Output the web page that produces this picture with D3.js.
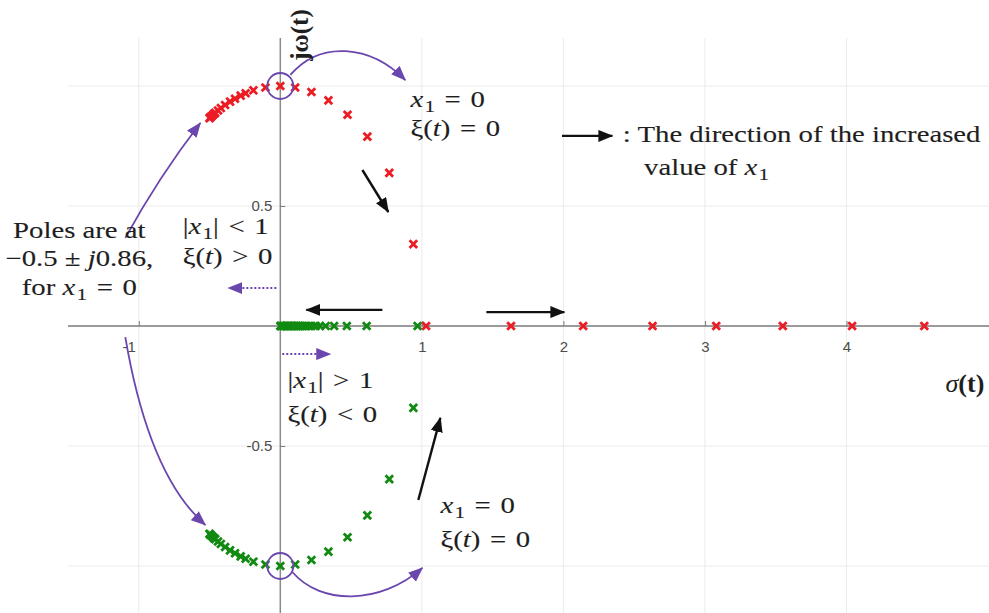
<!DOCTYPE html>
<html>
<head>
<meta charset="utf-8">
<script src="https://cdn.jsdelivr.net/npm/d3@7"></script>
<style>
  html, body { margin: 0; padding: 0; background: #fff; }
  svg { display: block; }
</style>
</head>
<body>
<svg id="chart" width="989" height="613"></svg>
<script>
// Closed-loop pole locations as x1 varies (real and imaginary parts)
const upperRe = [-0.50, -0.495, -0.49, -0.48, -0.47, -0.46, -0.44, -0.42, -0.39, -0.355, -0.32, -0.28, -0.245, -0.19, -0.105, 0,
                 0.105, 0.22, 0.34, 0.475, 0.615, 0.77, 0.94,
                 1.03, 1.63, 2.14, 2.63, 3.08, 3.55, 4.04, 4.55];
const upperIm = [0.866, 0.869, 0.872, 0.877, 0.883, 0.888, 0.898, 0.908, 0.921, 0.935, 0.947, 0.960, 0.970, 0.982, 0.994, 1.0,
                 0.994, 0.975, 0.940, 0.880, 0.789, 0.638, 0.341,
                 0, 0, 0, 0, 0, 0, 0, 0];
const lowerRe = [-0.50, -0.495, -0.49, -0.48, -0.47, -0.46, -0.44, -0.42, -0.39, -0.355, -0.32, -0.28, -0.245, -0.19, -0.105, 0,
                 0.105, 0.22, 0.34, 0.475, 0.615, 0.77, 0.94,
                 0.97, 0.61, 0.47, 0.38, 0.32, 0.28, 0.25, 0.22, 0.20, 0.185, 0.17, 0.155, 0.14, 0.13, 0.12, 0.11,
                 0.10, 0.09, 0.08, 0.07, 0.06, 0.05, 0.04, 0.03, 0.02, 0.01, 0.005, 0];
const lowerIm = [-0.866, -0.869, -0.872, -0.877, -0.883, -0.888, -0.898, -0.908, -0.921, -0.935, -0.947, -0.960, -0.970, -0.982, -0.994, -1.0,
                 -0.994, -0.975, -0.940, -0.880, -0.789, -0.638, -0.341,
                 0, 0, 0, 0, 0, 0, 0, 0, 0, 0, 0, 0, 0, 0, 0, 0,
                 0, 0, 0, 0, 0, 0, 0, 0, 0, 0, 0, 0];

const xTickValues = [-1, 1, 2, 3, 4];
const yTickValues = [-0.5, 0.5];
const xGridValues = [-1, 1, 2, 3, 4];
const yGridValues = [-1, -0.5, 0.5, 1];

const svg = d3.select("#chart");
const W = 989, H = 613;

const x = d3.scaleLinear().domain([-1.5, 5]).range([68, 988]);
const y = d3.scaleLinear().domain([-1.2, 1.2]).range([614, 38]);

const SERIF = "'Liberation Serif', 'Times New Roman', serif";
const SANS = "'Liberation Sans', Arial, sans-serif";
const PURPLE = "#6b46ad";
const INK = "#1e1e1e";
const SP = "\u2004"; // relation spacing around = < >

// Arrowhead markers
const defs = svg.append("defs");
function arrowMarker(id, color, len, wid) {
  defs.append("marker")
    .attr("id", id)
    .attr("markerUnits", "userSpaceOnUse")
    .attr("markerWidth", len).attr("markerHeight", wid)
    .attr("viewBox", `0 0 ${len} ${wid}`)
    .attr("refX", len - 1).attr("refY", wid / 2)
    .attr("orient", "auto")
    .append("path")
    .attr("d", `M0,0 L${len},${wid / 2} L0,${wid} Z`)
    .attr("fill", color);
}
arrowMarker("headBlack", "#111", 15, 12);
arrowMarker("headPurple", PURPLE, 15, 12);

// Grid
const grid = svg.append("g");
grid.selectAll("line.gx").data(xGridValues).join("line")
  .attr("x1", d => x(d)).attr("x2", d => x(d))
  .attr("y1", y(1.2)).attr("y2", H)
  .attr("stroke", "#ebebeb").attr("stroke-width", 1);
grid.selectAll("line.gy").data(yGridValues).join("line")
  .attr("x1", x(-1.5)).attr("x2", W)
  .attr("y1", d => y(d)).attr("y2", d => y(d))
  .attr("stroke", "#ebebeb").attr("stroke-width", 1);

// Axes through the origin
svg.append("line")
  .attr("x1", x(-1.5)).attr("x2", W)
  .attr("y1", y(0)).attr("y2", y(0))
  .attr("stroke", "#7a7a7a").attr("stroke-width", 1.5);
svg.append("line")
  .attr("x1", x(0)).attr("x2", x(0))
  .attr("y1", y(1.2)).attr("y2", H)
  .attr("stroke", "#8a8a8a").attr("stroke-width", 1.5);

const xAxis = svg.append("g")
  .attr("transform", `translate(0,${y(0)})`)
  .call(d3.axisBottom(x).tickValues(xTickValues).tickSize(-5).tickPadding(15)
    .tickFormat(d => String(d)));
xAxis.select(".domain").remove();
xAxis.selectAll(".tick line").attr("stroke", "#7a7a7a");
xAxis.selectAll(".tick text")
  .attr("font-family", SANS).attr("font-size", 15).attr("fill", "#4d4d4d")
  .attr("dx", d => d < 0 ? -10 : 0);

const yAxis = svg.append("g")
  .attr("transform", `translate(${x(0)},0)`)
  .call(d3.axisLeft(y).tickValues(yTickValues).tickSize(-5).tickPadding(8)
    .tickFormat(d => String(d)));
yAxis.select(".domain").remove();
yAxis.selectAll(".tick line").attr("stroke", "#7a7a7a");
yAxis.selectAll(".tick text")
  .attr("font-family", SANS).attr("font-size", 15).attr("fill", "#4d4d4d");

// Pole markers
function crosses(re, im, color) {
  const pts = re.map((r, i) => [r, im[i]]);
  const s = 3.8;
  svg.append("g").selectAll("path").data(pts).join("path")
    .attr("transform", d => `translate(${x(d[0])},${y(d[1])})`)
    .attr("d", `M${-s},${-s}L${s},${s}M${-s},${s}L${s},${-s}`)
    .attr("stroke", color).attr("stroke-width", 2.8).attr("fill", "none");
}
crosses(lowerRe, lowerIm, "#128a12");
crosses(upperRe, upperIm, "#ec1c24");

// Purple annotations: circles at x1 = 0 and curved pointers
const circlesAt = [[0, 1], [0, -1]];
svg.append("g").selectAll("circle").data(circlesAt).join("circle")
  .attr("cx", d => x(d[0])).attr("cy", d => y(d[1])).attr("r", 13)
  .attr("fill", "none").attr("stroke", PURPLE).attr("stroke-width", 1.8);

function P(p) { return `${x(p[0])},${y(p[1])}`; }
const purpleCurves = [
  { d: [[0.071, 1.046], [0.283, 1.192], [0.636, 1.171], [0.883, 1.025]] },
  { d: [[0.085, -1.025], [0.283, -1.163], [0.707, -1.163], [1.004, -1.008]] }
];
svg.append("g").selectAll("path").data(purpleCurves).join("path")
  .attr("d", c => `M${P(c.d[0])} C${P(c.d[1])} ${P(c.d[2])} ${P(c.d[3])}`)
  .attr("fill", "none").attr("stroke", PURPLE).attr("stroke-width", 1.8)
  .attr("marker-end", "url(#headPurple)");

const purplePointers = [
  { d: [[-1.095, 0.367], [-0.86, 0.62], [-0.565, 0.846]] },
  { d: [[-1.095, -0.046], [-0.93, -0.62], [-0.53, -0.829]] }
];
svg.append("g").selectAll("path").data(purplePointers).join("path")
  .attr("d", c => `M${P(c.d[0])} Q${P(c.d[1])} ${P(c.d[2])}`)
  .attr("fill", "none").attr("stroke", PURPLE).attr("stroke-width", 1.8)
  .attr("marker-end", "url(#headPurple)");

const dottedArrows = [
  [[-0.028, 0.158], [-0.367, 0.158]],
  [[0.014, -0.117], [0.353, -0.117]]
];
svg.append("g").selectAll("line").data(dottedArrows).join("line")
  .attr("x1", d => x(d[0][0])).attr("y1", d => y(d[0][1]))
  .attr("x2", d => x(d[1][0])).attr("y2", d => y(d[1][1]))
  .attr("stroke", PURPLE).attr("stroke-width", 2).attr("stroke-dasharray", "2,2")
  .attr("marker-end", "url(#headPurple)");

// Black direction arrows
const blackArrows = [
  [[0.58, 0.65], [0.763, 0.475]],
  [[0.721, 0.067], [0.184, 0.067]],
  [[1.456, 0.058], [2.007, 0.058]],
  [[0.975, -0.725], [1.131, -0.383]],
  [[1.99, 0.792], [2.346, 0.792]]
];
svg.append("g").selectAll("line").data(blackArrows).join("line")
  .attr("x1", d => x(d[0][0])).attr("y1", d => y(d[0][1]))
  .attr("x2", d => x(d[1][0])).attr("y2", d => y(d[1][1]))
  .attr("stroke", "#111").attr("stroke-width", 2.4)
  .attr("marker-end", "url(#headBlack)");

// Annotation text (serif, slightly widened)
function mathText(px, py, parts, anchor) {
  const g = svg.append("g").attr("transform", `translate(${px},${py}) scale(1.25,1)`);
  const t = g.append("text")
    .attr("font-family", SERIF).attr("font-size", 23).attr("fill", INK)
    .attr("stroke", INK).attr("stroke-width", 0.12)
    .attr("text-anchor", anchor || "start");
  let shifted = 0;
  parts.forEach(p => {
    const [str, style] = p;
    const ts = t.append("tspan").text(str);
    if (style === "i") ts.attr("font-style", "italic");
    if (style === "sub") {
      ts.attr("font-size", 17).attr("dy", 5).attr("dx", 1);
      shifted = 5;
    } else if (shifted) {
      ts.attr("dy", -shifted);
      shifted = 0;
    }
  });
  return t;
}

const notes = [
  { at: [0.919, 0.913], parts: [["x", "i"], ["1", "sub"], [SP + "=" + SP + "0"]] },
  { at: [0.919, 0.79], parts: [["ξ("], ["t", "i"], [")" + SP + "=" + SP + "0"]] },
  { at: [1.131, -0.78], parts: [["x", "i"], ["1", "sub"], [SP + "=" + SP + "0"]] },
  { at: [1.131, -0.92], parts: [["ξ("], ["t", "i"], [")" + SP + "=" + SP + "0"]] },
  { at: [2.42, 0.765], parts: [[":  The direction of the increased"]] },
  { at: [2.57, 0.63], parts: [["value of  "], ["x", "i"], ["1", "sub"]] },
  { at: [-0.69, 0.385], parts: [["|"], ["x", "i"], ["1", "sub"], ["|" + SP + "<" + SP + "1"]] },
  { at: [-0.69, 0.26], parts: [["ξ("], ["t", "i"], [")" + SP + ">" + SP + "0"]] },
  { at: [0.05, -0.26], parts: [["|"], ["x", "i"], ["1", "sub"], ["|" + SP + ">" + SP + "1"]] },
  { at: [0.05, -0.4], parts: [["ξ("], ["t", "i"], [")" + SP + "<" + SP + "0"]] }
];
notes.forEach(n => mathText(x(n.at[0]), y(n.at[1]), n.parts));

const poleNotes = [
  { at: [-1.42, 0.365], parts: [["Poles are at"]] },
  { at: [-1.42, 0.25], parts: [["−0.5 ± "], ["j", "i"], ["0.86,"]] },
  { at: [-1.42, 0.13], parts: [["for "], ["x", "i"], ["1", "sub"], [SP + "=" + SP + "0"]] }
];
poleNotes.forEach(n => mathText(x(n.at[0]), y(n.at[1]), n.parts, "middle"));

// Axis titles
svg.append("text")
  .attr("transform", `translate(${x(0) + 28},${y(1.105)}) rotate(-90)`)
  .attr("font-family", SERIF).attr("font-size", 25).attr("font-weight", "bold")
  .attr("fill", INK)
  .text("jω(t)");

const sig = svg.append("text")
  .attr("x", x(4.7)).attr("y", y(-0.275))
  .attr("font-family", SERIF).attr("font-size", 26).attr("fill", INK);
sig.append("tspan").attr("font-style", "italic").text("σ");
sig.append("tspan").attr("font-weight", "bold").text("(t)");
</script>
</body>
</html>
